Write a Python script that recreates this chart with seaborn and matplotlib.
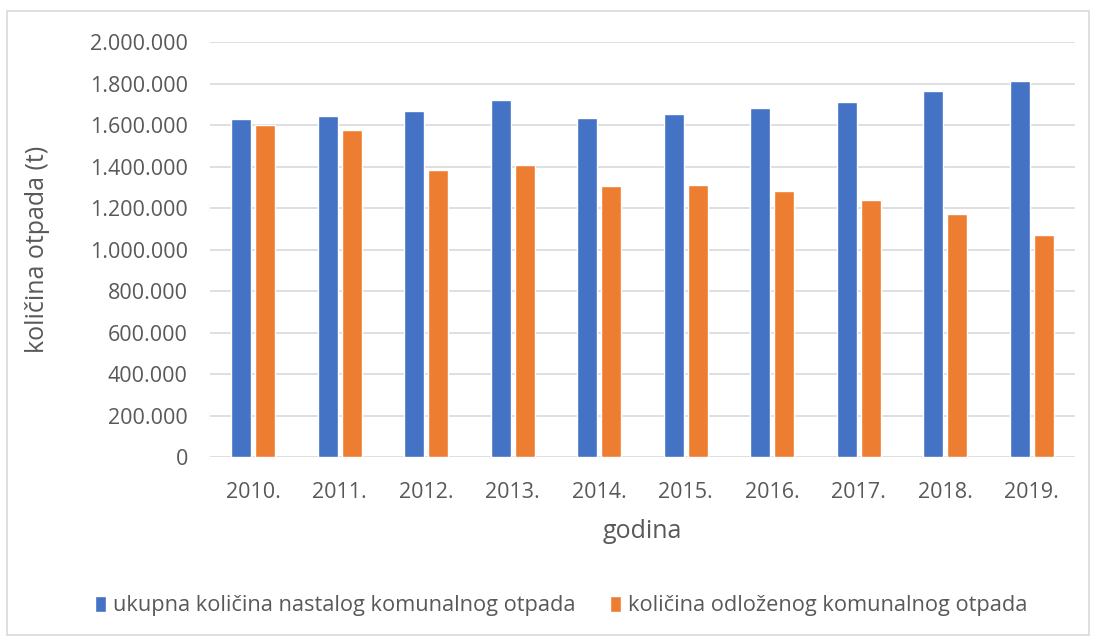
import pandas as pd
import numpy as np

import matplotlib
matplotlib.use('Agg')
import matplotlib.pyplot as plt
import matplotlib.ticker as mticker
from matplotlib.patches import Rectangle
import seaborn as sns

# data (tonnes)
years = ["2010.", "2011.", "2012.", "2013.", "2014.", "2015.", "2016.", "2017.", "2018.", "2019."]
total_waste = [1628000, 1644000, 1667000, 1720000, 1636000, 1652000, 1681000, 1712000, 1765000, 1810000]
landfilled_waste = [1599000, 1575000, 1382000, 1409000, 1304000, 1312000, 1282000, 1237000, 1169000, 1071000]

series_names = ["ukupna količina nastalog komunalnog otpada",
                "količina odloženog komunalnog otpada"]
colors = ["#4472C4", "#ED7D31"]

df = pd.DataFrame({
    "godina": years * 2,
    "vrijednost": total_waste + landfilled_waste,
    "serija": [series_names[0]] * len(years) + [series_names[1]] * len(years),
})

sns.set_style("white")
plt.rcParams['font.family'] = ['Open Sans', 'DejaVu Sans']
text_color = "#595959"

fig = plt.figure(figsize=(10.96, 6.41), dpi=100)
ax = fig.add_axes([210 / 1096, 1 - 457 / 641, 865 / 1096, 415 / 641])

sns.barplot(data=df, x="godina", y="vrijednost", hue="serija", palette=colors,
            width=0.56, gap=0.18, saturation=1, ax=ax, legend=True)

ax.set_ylim(0, 2000000)
ax.set_xlim(-0.5, 9.5)
ax.yaxis.set_major_locator(mticker.MultipleLocator(200000))
ax.yaxis.set_major_formatter(mticker.FuncFormatter(lambda v, p: f"{int(v):,}".replace(",", ".")))
ax.grid(axis="y", color="#D9D9D9", linewidth=1.2)
ax.set_axisbelow(True)
for s in ax.spines.values():
    s.set_visible(False)
ax.tick_params(axis="both", length=0, labelsize=15.5, colors=text_color)
ax.tick_params(axis="y", pad=16)
ax.tick_params(axis="x", pad=18)

ax.set_xlabel("godina", fontsize=18, color=text_color, va="center")
ax.xaxis.set_label_coords(0.5, (457 - 532) / 415)
ax.set_ylabel("količina otpada (t)", fontsize=18, color=text_color, va="center")
ax.yaxis.set_label_coords((38 - 210) / 865, 0.5)

handles, labels = ax.get_legend_handles_labels()
ax.get_legend().remove()
fig.legend(handles, labels, loc="center", bbox_to_anchor=(0.512, 1 - 606 / 641), ncol=2,
           frameon=False, fontsize=15.7, labelcolor=text_color,
           handlelength=0.5, handleheight=0.75, handletextpad=0.3, columnspacing=1.6)

# light border around the whole chart area
fig.add_artist(Rectangle((7 / 1096, 6 / 641), 1082 / 1096, 624 / 641, transform=fig.transFigure,
                         fill=False, edgecolor="#D9D9D9", linewidth=1.2))

plt.savefig("out.png", dpi=100)
plt.close()
